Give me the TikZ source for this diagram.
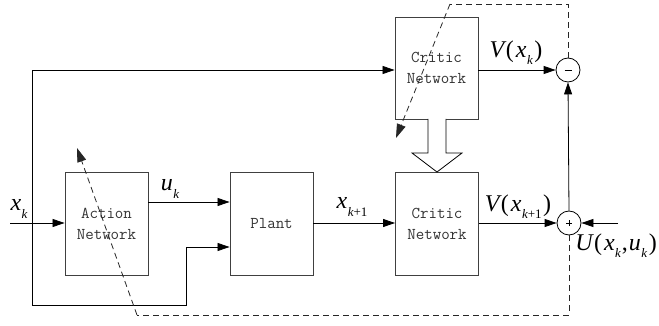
\documentclass[tikz,border=0pt]{standalone}
\usepackage{fontspec}
\usetikzlibrary{arrows.meta}
\newfontfamily\lblfont{Liberation Serif}
% subscript set by hand in the label font
\newcommand\lsub[1]{\kern0.5pt\raisebox{-0.3em}{\fontsize{13}{13}\selectfont #1}}
\newcommand\vi[1]{{\itshape #1}}
\newcommand\lp{\kern1.5pt(\kern2pt}
\newcommand\rp{\kern1.5pt)}
\begin{document}
\begin{tikzpicture}[x=1pt,y=-1pt,
  blk/.style={draw=black!75,line width=0.9pt,minimum width=83pt,minimum height=103pt,
    inner sep=0pt,align=center,font=\fontsize{16.5}{21}\selectfont\ttfamily,text=black!80},
  sumc/.style={draw,circle,minimum size=24pt,inner sep=0pt,line width=0.8pt},
  sig/.style={line width=0.8pt,-{Triangle[length=12pt,width=8pt]}},
  fb/.style={line width=0.8pt,dash pattern=on 6pt off 4pt,black!85},
  fbarrow/.style={fb,-{Triangle[length=14pt,width=9pt]}},
  lbl/.style={inner sep=0pt,font=\fontsize{24}{28}\selectfont\lblfont}]
\useasboundingbox (0,0) rectangle (659,326);

% blocks
\node[blk] (act) at (106.5,223.5) {Action\\Network};
\node[blk] (plant) at (271.5,223.5) {Plant};
\node[blk] (critB) at (437,223.5) {Critic\\Network};
\node[blk,minimum height=102pt] (critT) at (436.5,68) {Critic\\Network};

% summing junctions
\node[sumc] (minus) at (568,70) {};
\node[sumc] (plus) at (569,223) {};
\draw[line width=0.8pt] ([xshift=-3.5pt]minus.center) -- ([xshift=3.5pt]minus.center);
\draw[line width=0.6pt] ([xshift=-3pt]plus.center) -- ([xshift=3pt]plus.center)
  ([yshift=-3pt]plus.center) -- ([yshift=3pt]plus.center);

% helper points
\coordinate (xin) at (10,223);
\coordinate (split) at (32,223);
\coordinate (low1) at (32,305);
\coordinate (low2) at (186,305);
\coordinate (low3) at (186,247);
\coordinate (uin) at (618,223);

% state signal x_k
\draw[sig] (xin) -- (act.west |- xin);
\draw[sig] (split) -- (split |- minus) -- (critT.west |- minus);
\draw[sig] (split) -- (low1) -- (low2) -- (low3) -- (plant.west |- low3);

% control u_k
\draw[sig] (act.east |- 0,202) -- (plant.west |- 0,202);

% x_{k+1}
\draw[sig] (plant.east |- xin) -- (critB.west |- xin);

% critic outputs and utility
\draw[sig] (critB.east |- plus) -- (plus.west);
\draw[sig] (critT.east |- minus) -- (minus.west);
\draw[sig] (plus.north) -- (minus.south);
\draw[sig] (uin) -- (plus.east);

% weight copy (hollow arrow)
\draw[line width=0.8pt,fill=white] (428,119) -- (428,153) -- (412,153) -- (437,172)
  -- (462,153) -- (446,153) -- (446,119);

% dashed tuning paths
\coordinate (t1) at (568,4);
\coordinate (t2) at (450,4);
\coordinate (t3) at (396,138);
\draw[fb] (minus.north) -- (t1) -- (t2);
\draw[fbarrow] (t2) -- (t3);
\coordinate (b1) at (569,315);
\coordinate (b2) at (137,315);
\coordinate (b3) at (77,148);
\draw[fb] (plus.south) -- (b1) -- (b2);
\draw[fbarrow] (b2) -- (b3);

% labels
\node[lbl] (lxk) at (19,209) {\vi{x}\lsub{\vi{k}}};
\node[lbl] (luk) at (170,189) {\vi{u}\lsub{\vi{k}}};
\node[lbl] (lxk1) at (352,207) {\vi{x}\lsub{\vi{k}+1}};
\node[lbl] (lvk1) at (518,207) {\vi{V}\lp\vi{x}\lsub{\vi{k}+1}\rp};
\node[lbl] (lvk) at (516,53) {\vi{V}\lp\vi{x}\lsub{\vi{k}}\rp};
\node[lbl] (lu) at (616,246) {\vi{U}\lp\vi{x}\lsub{\vi{k}}\kern1pt,\kern1pt\vi{u}\lsub{\vi{k}}\rp};
\end{tikzpicture}
\end{document}
